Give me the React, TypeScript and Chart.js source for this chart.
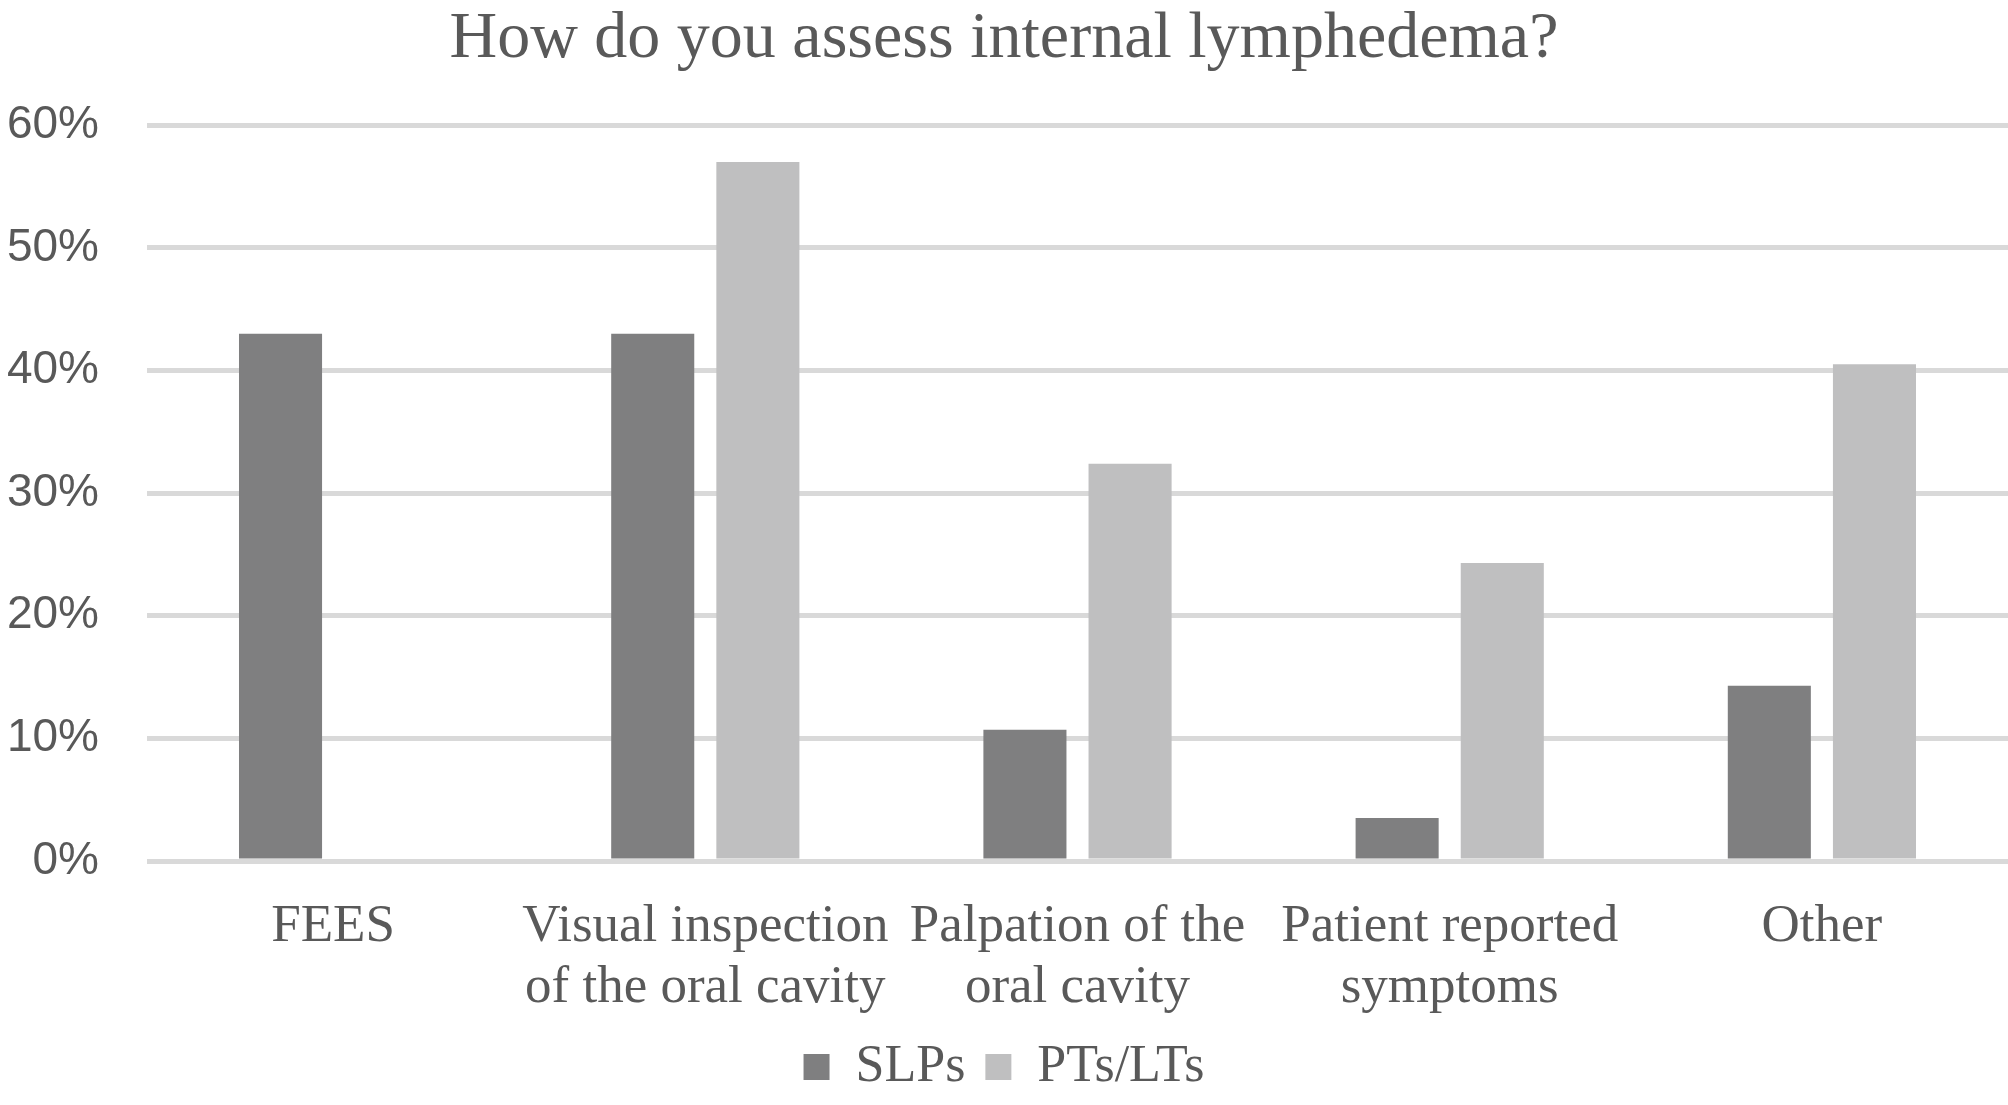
import React, { useEffect, useRef } from "react";
import { Chart, registerables } from "chart.js";
Chart.register(...registerables);

const categories = [["FEES"], ["Visual inspection", "of the oral cavity"], ["Palpation of the", "oral cavity"], ["Patient reported", "symptoms"], ["Other"]];
const slps = [43, 43, 10.7, 3.5, 14.3];
const pts = [0, 57, 32.4, 24.3, 40.5];
const yTicks = [0, 10, 20, 30, 40, 50, 60];

export default function App() {
  const ref = useRef<HTMLCanvasElement>(null);
  useEffect(() => {
    document.body.style.margin = "0";
    const serif = "'Liberation Serif', 'Times New Roman', serif";
    const sans = "'Liberation Sans', Arial, sans-serif";
    const chart = new Chart(ref.current!, {
      type: "bar",
      data: {
        labels: categories,
        datasets: [
          { label: "SLPs", data: slps, backgroundColor: "#7f7f80", barPercentage: 0.79, categoryPercentage: 0.565 },
          { label: "PTs/LTs", data: pts, backgroundColor: "#bfbfc0", barPercentage: 0.79, categoryPercentage: 0.565 },
        ],
      },
      options: {
        responsive: false,
        animation: false,
        layout: { padding: { top: 0, right: 0, bottom: 2, left: 0 } },
        plugins: {
          title: { display: true, text: "How do you assess internal lymphedema?", color: "#595959", font: { family: serif, size: 66, weight: "normal" }, padding: { top: 0, bottom: 46 } },
          legend: { position: "bottom", labels: { color: "#595959", font: { family: serif, size: 52 }, boxWidth: 26, boxHeight: 26, padding: 20 } },
          tooltip: { enabled: false },
        },
        scales: {
          x: {
            grid: { display: false },
            border: { display: false },
            ticks: { color: "#595959", font: { family: serif, size: 53, lineHeight: 1.15 }, maxRotation: 0, autoSkip: false, padding: 28 },
            afterFit: (s: any) => { s.height = 160; },
          },
          y: {
            min: 0, max: 60,
            afterBuildTicks: (s: any) => { s.ticks = yTicks.map((v) => ({ value: v })); },
            grid: { color: "#d9d9d9", lineWidth: 5, drawTicks: false },
            border: { display: false },
            ticks: { color: "#595959", font: { family: sans, size: 46 }, padding: 48, callback: (v: any) => v + "%" },
            afterFit: (s: any) => { s.width = 147; },
          },
        },
      },
    });
    return () => chart.destroy();
  }, []);
  return <canvas ref={ref} width={2008} height={1105} style={{ display: "block" }} />;
}
